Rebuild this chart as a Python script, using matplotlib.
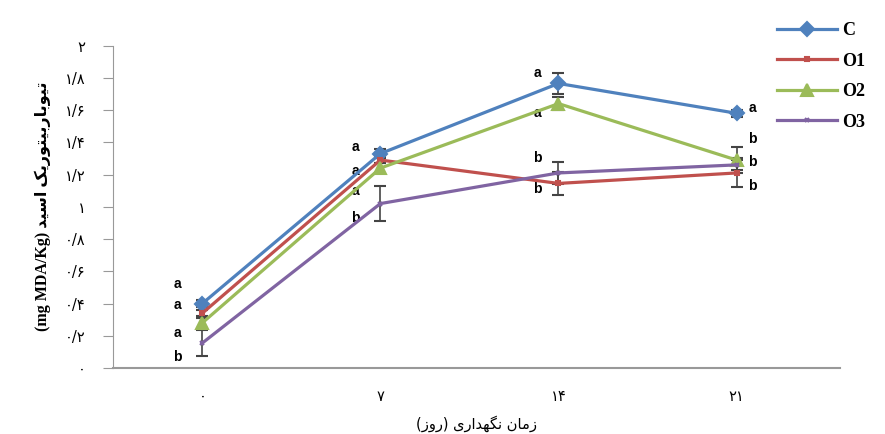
import numpy as np
import matplotlib
matplotlib.use('Agg')
import matplotlib.pyplot as plt

# Dades
dies = ['۰', '۷', '۱۴', '۲۱']
series = ['C', 'O1', 'O2', 'O3']
C = [0.40, 1.33, 1.765, 1.58]
O1 = [0.34, 1.29, 1.145, 1.21]
O2 = [0.28, 1.24, 1.64, 1.29]
O3 = [0.155, 1.02, 1.21, 1.26]
err_C = [0.02, 0.03, 0.065, 0.02]
err_O1 = [0.02, 0.02, 0.07, 0.09]
err_O2 = [0.03, 0.03, 0.04, 0.08]
err_O3 = [0.08, 0.11, 0.07, 0.03]
yticks = [0, 0.2, 0.4, 0.6, 0.8, 1.0, 1.2, 1.4, 1.6, 1.8, 2.0]
ytick_labels = ['۰', '۰/۲', '۰/۴', '۰/۶', '۰/۸', '۱', '۱/۲', '۱/۴', '۱/۶', '۱/۸', '۲']

# lletres de significació per dia (de dalt a baix)
lletres = [['a', 'a', 'a', 'b'], ['a', 'a', 'a', 'b'], ['a', 'a', 'b', 'b'], ['a', 'b', 'b', 'b']]
lletres_y = [[0.52, 0.39, 0.22, 0.07], [1.37, 1.225, 1.10, 0.93],
             [1.83, 1.58, 1.30, 1.11], [1.61, 1.42, 1.275, 1.13]]
lletres_dx = [-0.14, -0.14, -0.12, 0.09]

colors = ['#4F81BD', '#C0504D', '#9BBB59', '#8064A2']
markers = ['D', 's', '^', 'x']
msizes = [7, 3, 8, 3]


# Formes de presentació àrabs/perses: (aïllada, final, inicial, medial)
formes = {
    'ا': ('\uFE8D', '\uFE8E', None, None),
    'ب': ('\uFE8F', '\uFE90', '\uFE91', '\uFE92'),
    'ت': ('\uFE95', '\uFE96', '\uFE97', '\uFE98'),
    'د': ('\uFEA9', '\uFEAA', None, None),
    'ر': ('\uFEAD', '\uFEAE', None, None),
    'ز': ('\uFEAF', '\uFEB0', None, None),
    'س': ('\uFEB1', '\uFEB2', '\uFEB3', '\uFEB4'),
    'م': ('\uFEE1', '\uFEE2', '\uFEE3', '\uFEE4'),
    'ن': ('\uFEE5', '\uFEE6', '\uFEE7', '\uFEE8'),
    'ه': ('\uFEE9', '\uFEEA', '\uFEEB', '\uFEEC'),
    'و': ('\uFEED', '\uFEEE', None, None),
    'ی': ('\uFBFC', '\uFBFD', '\uFBFE', '\uFBFF'),
    'ک': ('\uFB8E', '\uFB8F', '\uFB90', '\uFB91'),
    'گ': ('\uFB92', '\uFB93', '\uFB94', '\uFB95'),
}


def visual(txt):
    out = []
    for i, ch in enumerate(txt):
        if ch not in formes:
            out.append(ch)
            continue
        prev = txt[i - 1] if i > 0 else ''
        nxt = txt[i + 1] if i + 1 < len(txt) else ''
        amb_prev = prev in formes and formes[prev][2] is not None
        amb_next = formes[ch][2] is not None and nxt in formes
        f = formes[ch]
        if amb_prev and amb_next:
            out.append(f[3])
        elif amb_prev:
            out.append(f[1])
        elif amb_next:
            out.append(f[2])
        else:
            out.append(f[0])
    s = ''.join(out[::-1])
    return s.translate(str.maketrans('()', ')('))


fig = plt.figure(figsize=(8.85, 4.34), dpi=100)
ax = fig.add_axes([0.128, 0.152, 0.821, 0.743])

x = np.arange(len(dies))
for nom, y, e, c, m, ms in zip(series, [C, O1, O2, O3], [err_C, err_O1, err_O2, err_O3],
                                 colors, markers, msizes):
    ax.errorbar(x, y, yerr=e, color=c, marker=m, markersize=ms, lw=2.3,
                ecolor='#444444', elinewidth=1.2, capsize=4, capthick=1.2,
                markeredgewidth=1.5, label=nom, zorder=3)

for i in range(len(dies)):
    for l, ly in zip(lletres[i], lletres_y[i]):
        ax.text(x[i] + lletres_dx[i], ly, l, fontsize=10, fontweight='bold',
                family='Liberation Sans', ha='center', va='center')

ax.set_xlim(-0.5, 3.58)
ax.set_ylim(0, 2)
ax.set_xticks(x)
ax.set_xticklabels(dies, fontsize=10.5, family='DejaVu Sans')
ax.set_yticks(yticks)
ax.set_yticklabels(ytick_labels, fontsize=10.5, family='DejaVu Sans')
ax.tick_params(axis='x', length=0, pad=15)
ax.tick_params(axis='y', length=7, pad=13, color='#999999')
for s in ['top', 'right']:
    ax.spines[s].set_visible(False)
ax.spines['left'].set_color('#999999')
ax.spines['bottom'].set_color('#999999')
ax.spines['bottom'].set_linewidth(1.5)

ax.set_xlabel(visual('زمان نگهداری (روز)'), fontsize=10.5, family='DejaVu Sans', labelpad=8)
ax.set_ylabel('(mg MDA/Kg) ' + visual('تیوباربیتوریک اسید'), fontsize=11.5,
              family=['Liberation Serif', 'DejaVu Sans'], fontweight='bold', labelpad=10)

h, lab = ax.get_legend_handles_labels()
h = [hh[0] for hh in h]
fig.legend(h, lab, loc='upper left', bbox_to_anchor=(0.868, 0.97), frameon=False,
           prop={'family': 'Liberation Serif', 'weight': 'bold', 'size': 13},
           handlelength=3.3, handletextpad=0.3, labelspacing=0.75, borderpad=0)

plt.savefig('out.png', dpi=100)
